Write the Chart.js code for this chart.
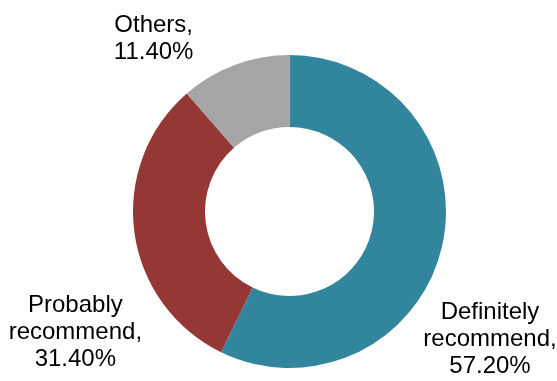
<!DOCTYPE html>
<html>
<head>
<meta charset="utf-8">
<script src="https://cdn.jsdelivr.net/npm/chart.js@4"></script>
<style>
  html, body { margin: 0; padding: 0; background: #fff; }
  #wrap { width: 557px; height: 381px; }
</style>
</head>
<body>
<div id="wrap"><canvas id="pieChart"></canvas></div>
<script>
  // chart data
  const categories = ["Definitely recommend", "Probably recommend", "Others"];
  const shares = [57.2, 31.4, 11.4];
  const labelLines = [
    ["Definitely", "recommend,", "57.20%"],
    ["Probably", "recommend,", "31.40%"],
    ["Others,", "11.40%"]
  ];
  const sliceColors = ["#31859C", "#953735", "#A5A5A5"];

  // where each label sits relative to the outer edge of its slice
  const labelOffsets = [[48, 93], [-59, 100], [-81, -26]];

  const outsideLabels = {
    id: "outsideLabels",
    afterDraw(chart) {
      const ctx = chart.ctx;
      const arcs = chart.getDatasetMeta(0).data;
      ctx.save();
      ctx.font = "24px 'Liberation Sans', Arial, sans-serif";
      ctx.fillStyle = "#000";
      ctx.textAlign = "center";
      ctx.textBaseline = "middle";
      arcs.forEach(function (arc, i) {
        const mid = (arc.startAngle + arc.endAngle) / 2;
        const x = arc.x + Math.cos(mid) * arc.outerRadius + labelOffsets[i][0];
        const y = arc.y + Math.sin(mid) * arc.outerRadius + labelOffsets[i][1];
        const lines = labelLines[i];
        const lh = 27;
        const top = y - (lines.length - 1) * lh / 2;
        lines.forEach(function (t, k) {
          ctx.fillText(t, x, top + k * lh);
        });
      });
      ctx.restore();
    }
  };

  new Chart(document.getElementById("pieChart").getContext("2d"), {
    type: "doughnut",
    data: {
      labels: categories,
      datasets: [{
        data: shares,
        backgroundColor: sliceColors,
        borderWidth: 0
      }]
    },
    options: {
      responsive: true,
      maintainAspectRatio: false,
      animation: false,
      cutout: "54%",
      layout: { padding: { top: 55, bottom: 13, left: 22, right: 0 } },
      plugins: {
        legend: { display: false },
        tooltip: { enabled: false }
      }
    },
    plugins: [outsideLabels]
  });
</script>
</body>
</html>
